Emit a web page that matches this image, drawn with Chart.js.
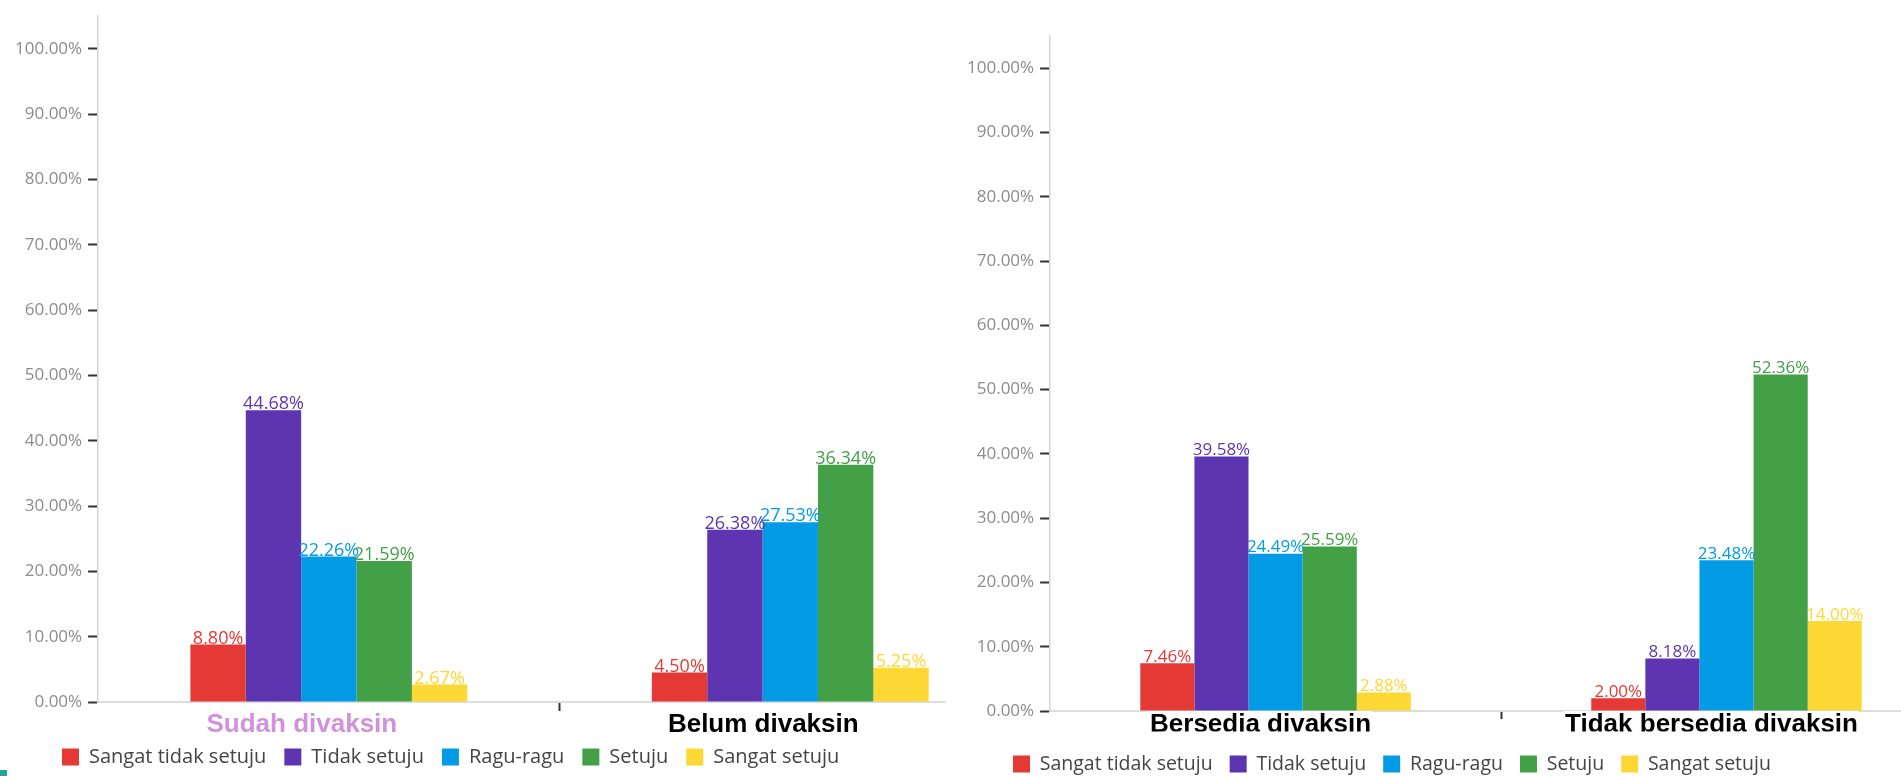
<!DOCTYPE html>
<html>
<head>
<meta charset="utf-8">
<script src="https://cdn.jsdelivr.net/npm/chart.js@4.4.1/dist/chart.umd.min.js"></script>
<style>
  html, body { margin: 0; padding: 0; background: #fff; overflow: hidden; width: 1901px; height: 776px; }
  .panel { position: absolute; top: 0; background: #fff; }
  #leftPanel { left: 0; width: 1021px; height: 787px; }
  #rightPanel { left: 946px; width: 1006px; height: 778px; }
  .corner { position: absolute; left: 0; top: 770px; width: 7px; height: 6px; background: #26a69a; }
</style>
</head>
<body>
<div class="panel" id="leftPanel"><canvas id="leftChart"></canvas></div>
<div class="panel" id="rightPanel"><canvas id="rightChart"></canvas></div>
<div class="corner"></div>
<script>
const responses = ["Sangat tidak setuju", "Tidak setuju", "Ragu-ragu", "Setuju", "Sangat setuju"];
const barColors = ["#E53935", "#5E35B1", "#039BE5", "#43A047", "#FDD835"];

const vaccineGroups = ["Sudah divaksin", "Belum divaksin"];
const sudahDivaksin = [8.80, 44.68, 22.26, 21.59, 2.67];
const belumDivaksin = [4.50, 26.38, 27.53, 36.34, 5.25];

const willingGroups = ["Bersedia divaksin", "Tidak bersedia divaksin"];
const bersedia = [7.46, 39.58, 24.49, 25.59, 2.88];
const tidakBersedia = [2.00, 8.18, 23.48, 52.36, 14.00];

// axis runs a bit past the last labelled tick
const yMax = 105;
const yLastTick = 100;
const yStep = 10;

Chart.defaults.font.family = "'Open Sans', sans-serif";

// percentage written above every bar
const valueTags = {
    id: "valueTags",
    afterDatasetsDraw(chart, args, opts) {
        const ctx = chart.ctx;
        ctx.save();
        ctx.font = opts.size + "px 'Open Sans'";
        ctx.textAlign = "center";
        chart.data.datasets.forEach((ds, i) => {
            ctx.fillStyle = ds.backgroundColor;
            chart.getDatasetMeta(i).data.forEach((bar, j) => {
                ctx.fillText(ds.data[j].toFixed(2) + "%", bar.x, bar.y - 6);
            });
        });
        ctx.restore();
    }
};

// put the legend row where the screenshot has it
const legendSpot = {
    id: "legendSpot",
    afterLayout(chart, args, opts) {
        const lg = chart.legend;
        const lab = lg.options.labels;
        const itemH = Math.max(lab.font.size, lab.boxHeight);
        const dx = opts.x - (lg.left + lab.padding);
        const dy = opts.y - (lg.top + lab.padding + itemH / 2);
        lg.left += dx;
        lg.right += dx;
        lg.top += dy;
        lg.bottom += dy;
    }
};

function makeChart(id, groups, rows, cfg) {
    const datasets = responses.map((name, i) => ({
        label: name,
        data: rows.map(r => r[i]),
        backgroundColor: barColors[i]
    }));

    return new Chart(document.getElementById(id), {
        type: "bar",
        data: { labels: groups, datasets: datasets },
        options: {
            responsive: true,
            maintainAspectRatio: false,
            animation: false,
            layout: { padding: cfg.padding },
            datasets: { bar: { categoryPercentage: 0.6, barPercentage: 1 } },
            scales: {
                x: {
                    grid: {
                        drawOnChartArea: false,
                        offset: true,
                        tickLength: cfg.xTick,
                        tickWidth: 2,
                        tickColor: c => c.index === 1 ? "#333" : "rgba(0,0,0,0)"
                    },
                    border: { color: "#dddddd", width: 2 },
                    ticks: {
                        color: c => cfg.groupColors[c.index] || "#000",
                        font: { family: "'Liberation Sans', Arial, sans-serif", size: 26, weight: "bold", lineHeight: cfg.xLine },
                        padding: 1,
                        labelOffset: cfg.labelShift,
                        z: 1,
                        showLabelBackdrop: cfg.backdrop,
                        backdropColor: "#ffffff",
                        backdropPadding: { top: 12, bottom: 8, left: 2, right: 0 }
                    }
                },
                y: {
                    min: 0,
                    max: yMax,
                    bounds: "data",
                    afterBuildTicks: s => {
                        s.ticks = s.ticks.filter(t => t.value <= yLastTick);
                    },
                    grid: { drawOnChartArea: false, tickLength: 10, tickWidth: 2, tickColor: "#333" },
                    border: { color: "#d4d4d4", width: 1.5 },
                    ticks: {
                        stepSize: yStep,
                        color: "#8c8c8c",
                        padding: 6,
                        font: { size: 17 },
                        callback: v => v.toFixed(2) + "%"
                    }
                }
            },
            plugins: {
                tooltip: { enabled: false },
                legend: {
                    position: "bottom",
                    align: "start",
                    labels: {
                        boxWidth: 17,
                        boxHeight: 17,
                        padding: cfg.legendGap,
                        color: "#444",
                        font: { size: cfg.legendSize }
                    }
                },
                valueTags: { size: cfg.tagSize },
                legendSpot: { x: cfg.legendX, y: cfg.legendY }
            }
        },
        plugins: [valueTags, legendSpot]
    });
}

makeChart("leftChart", vaccineGroups, [sudahDivaksin, belumDivaksin], {
    padding: { left: 9, top: 12, right: 0, bottom: 0 },
    xTick: 9,
    xLine: 1,
    labelShift: -27,
    groupColors: ["#d291dc", "#000000"],
    backdrop: false,
    legendGap: 18,
    legendSize: 20,
    tagSize: 18,
    legendX: 62,
    legendY: 757
});

makeChart("rightChart", willingGroups, [bersedia, tidakBersedia], {
    padding: { left: 15, top: 36, right: 0, bottom: 0 },
    xTick: 8,
    xLine: 0.4,
    labelShift: -15,
    groupColors: ["#000000", "#000000"],
    backdrop: true,
    legendGap: 17,
    legendSize: 19.5,
    tagSize: 17,
    legendX: 67,
    legendY: 764
});
</script>
</body>
</html>
